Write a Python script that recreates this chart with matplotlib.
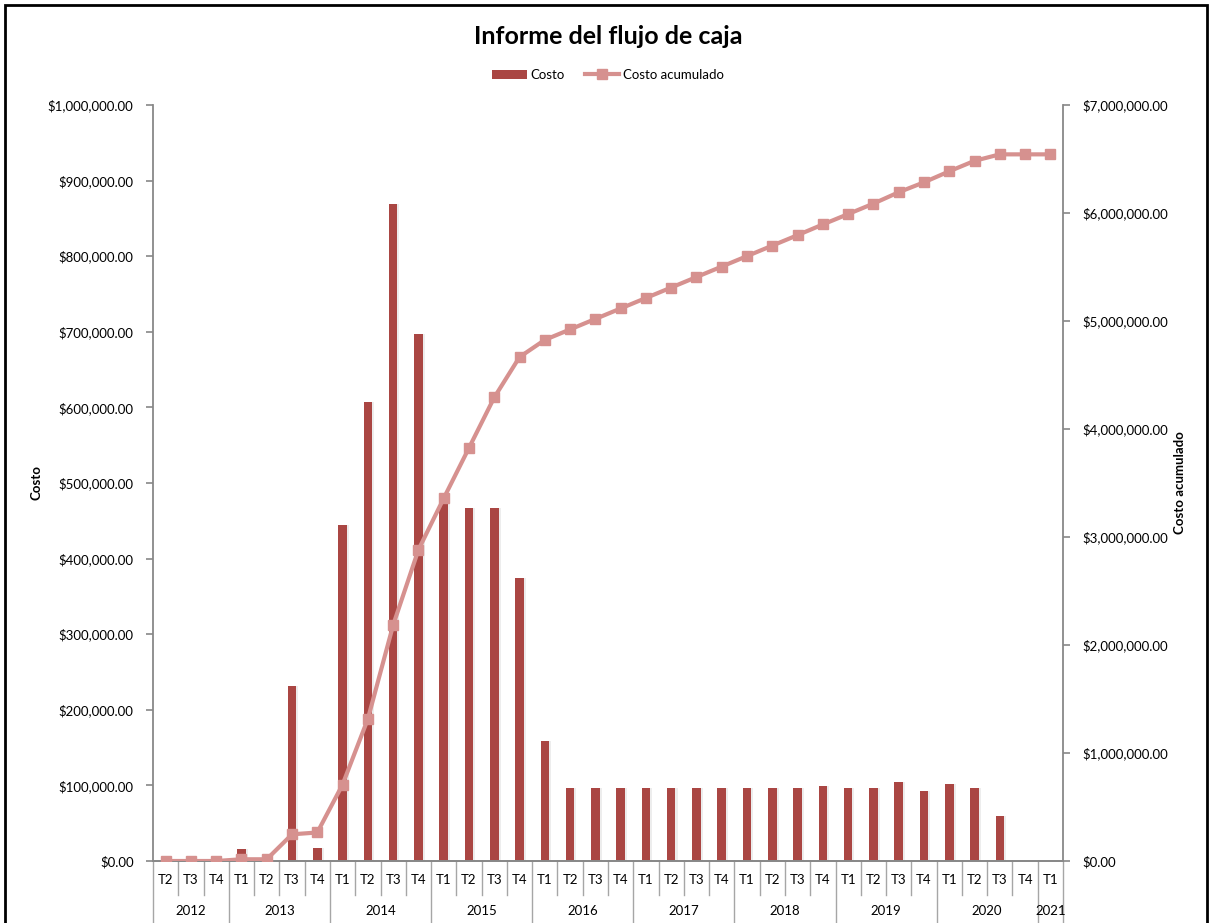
import numpy as np
import matplotlib
matplotlib.use("Agg")
import matplotlib.pyplot as plt
from matplotlib.patches import Rectangle, Patch
from matplotlib.lines import Line2D
from matplotlib.ticker import FuncFormatter, MultipleLocator
from matplotlib.transforms import blended_transform_factory

plt.rcParams['font.family'] = ['Lato', 'DejaVu Sans']

# Quarterly cost data
years = ["2012", "2013", "2014", "2015", "2016", "2017", "2018", "2019", "2020", "2021"]
quarters_per_year = [["T2", "T3", "T4"]] + [["T1", "T2", "T3", "T4"]] * 8 + [["T1"]]
quarters = [q for qs in quarters_per_year for q in qs]

costo = [
    0, 0, 0,                                   # 2012
    16000, 0, 231000, 17000,                   # 2013
    444000, 607000, 869000, 697000,            # 2014
    477000, 467000, 467000, 374000,            # 2015
    159000, 97000, 97000, 97000,               # 2016
    97000, 97000, 97000, 97000,                # 2017
    97000, 97000, 97000, 99000,                # 2018
    96000, 97000, 105000, 92000,               # 2019
    102000, 97000, 60000, 0,                   # 2020
    0,                                         # 2021
]
costo_acumulado = np.cumsum(costo)

BAR_COLOR = "#AA4643"
LINE_COLOR = "#D6918F"
AXIS_GRAY = "#888888"

W, H = 1210, 923
fig = plt.figure(figsize=(W / 100, H / 100), dpi=100)

left_px, right_px, top_px, bottom_px = 153, 1063, 105, 861
ax = fig.add_axes([left_px / W, 1 - bottom_px / H,
                   (right_px - left_px) / W, (bottom_px - top_px) / H])
ax2 = ax.twinx()

x = np.arange(len(costo))

# bars with a soft shadow
ax.bar(x + 0.07, costo, width=0.36, color="#000000", alpha=0.07, zorder=1)
ax.bar(x, costo, width=0.34, color=BAR_COLOR, zorder=2)

ax2.plot(x, costo_acumulado, color=LINE_COLOR, lw=3.0, marker="s",
         markersize=6.5, markerfacecolor=LINE_COLOR, markeredgecolor=LINE_COLOR,
         solid_joinstyle="round", zorder=3)

ax.set_xlim(-0.5, len(costo) - 0.5)
ax.set_ylim(0, 1_000_000)
ax2.set_ylim(0, 7_000_000)
ax.yaxis.set_major_locator(MultipleLocator(100_000))
ax2.yaxis.set_major_locator(MultipleLocator(1_000_000))
fmt = FuncFormatter(lambda v, p: f"${v:,.2f}")
ax.yaxis.set_major_formatter(fmt)
ax2.yaxis.set_major_formatter(fmt)

for a in (ax, ax2):
    a.spines["top"].set_visible(False)
    for s in ("left", "right", "bottom"):
        a.spines[s].set_color(AXIS_GRAY)
        a.spines[s].set_linewidth(1.3)
    a.tick_params(axis="y", direction="out", length=5, width=1.2,
                  color=AXIS_GRAY, labelsize=9.5, pad=9)
ax.spines["right"].set_visible(False)
ax2.spines["left"].set_visible(False)

# quarter labels
ax.set_xticks(x)
ax.set_xticklabels(quarters, fontsize=9.5)
ax.tick_params(axis="x", length=0, pad=9)

# category separators and year labels
trans = blended_transform_factory(ax.transData, ax.transAxes)
sep_short = -(895 - bottom_px) / (bottom_px - top_px)
sep_long = -(930 - bottom_px) / (bottom_px - top_px)
year_y = -(911 - bottom_px) / (bottom_px - top_px)
year_starts = np.cumsum([0] + [len(q) for q in quarters_per_year])
for i in range(len(costo) + 1):
    is_year = i in year_starts
    ax.plot([i - 0.5, i - 0.5], [0, sep_long if is_year else sep_short],
            transform=trans, color="#A6A6A6", lw=1.0, clip_on=False, zorder=0)
for yr, s, e in zip(years, year_starts[:-1], year_starts[1:]):
    ax.text((s + e - 1) / 2, year_y, yr, transform=trans, ha="center",
            va="center", fontsize=9.5, clip_on=False)

ax.set_ylabel("Costo", fontsize=9.5, fontweight="bold", labelpad=4)
ax2.set_ylabel("Costo acumulado", fontsize=9.5, fontweight="bold",
               rotation=90, labelpad=4)

fig.text(608 / W, 1 - 36 / H, "Informe del flujo de caja", ha="center",
         va="center", fontsize=18, fontweight="bold")

handles = [
    Patch(facecolor=BAR_COLOR, edgecolor="none"),
    Line2D([0], [0], color=LINE_COLOR, lw=3.0, marker="s", markersize=6.5),
]
fig.legend(handles, ["Costo", "Costo acumulado"], loc="center",
           bbox_to_anchor=(608 / W, 1 - 75 / H), ncol=2, frameon=False,
           fontsize=9.5, handlelength=2.6, handletextpad=0.3, columnspacing=1.5)

# chart border
fig.patches.append(Rectangle((5 / W, -0.02), (1207 - 5) / W, 1.02 - 5 / H,
                             transform=fig.transFigure, fill=False,
                             edgecolor="black", lw=2.0))

fig.savefig("out.png", dpi=100, facecolor="white")
